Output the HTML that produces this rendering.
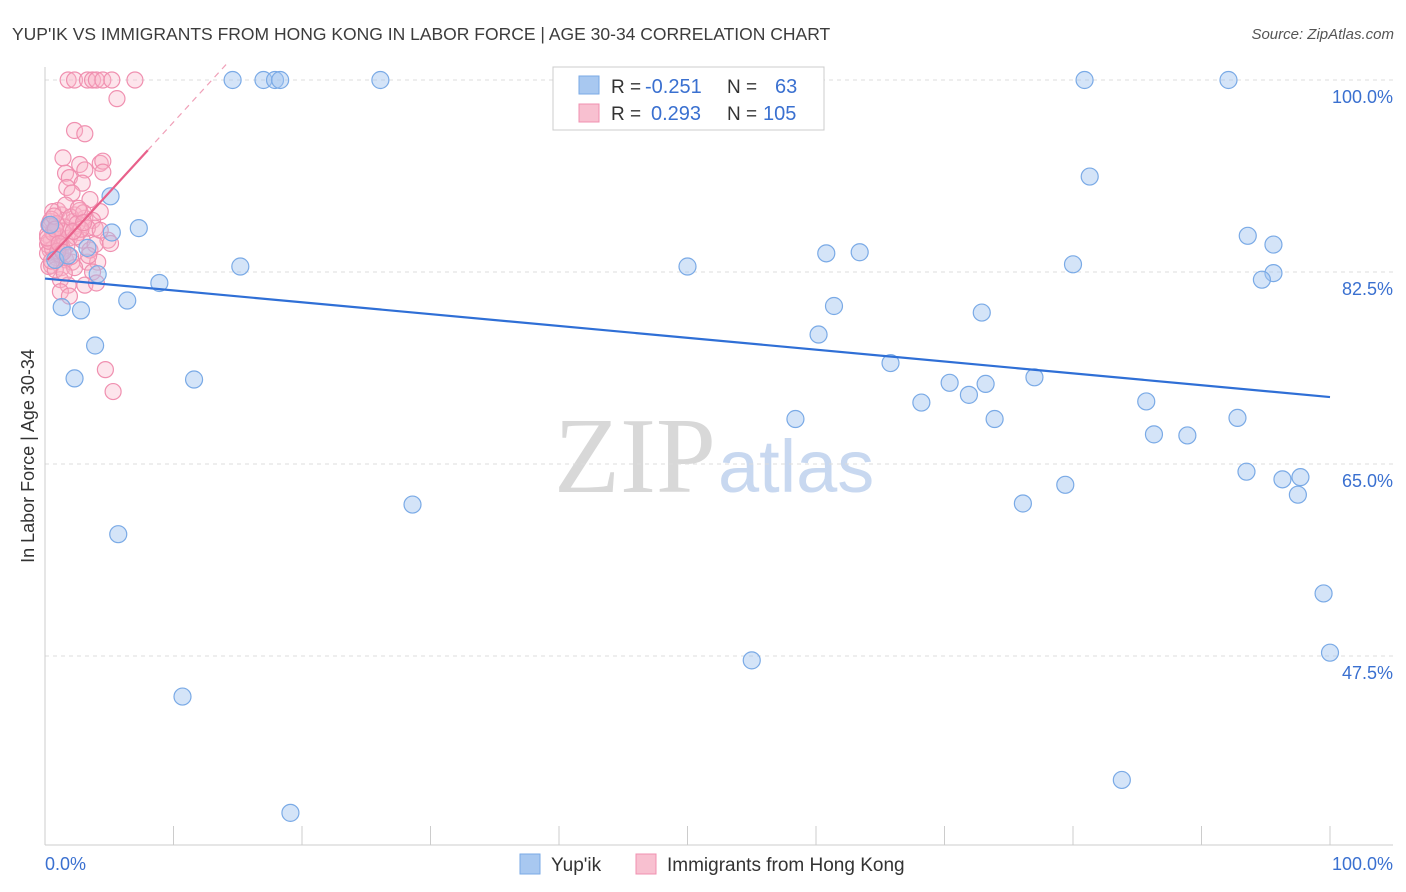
<!DOCTYPE html>
<html><head><meta charset="utf-8"><style>
body{margin:0;background:#fff;font-family:"Liberation Sans",sans-serif}
svg{display:block}
</style></head><body>
<svg width="1406" height="892" id="c">
<text x="12" y="40" font-size="17.5" fill="#3c3c3c">YUP'IK VS IMMIGRANTS FROM HONG KONG IN LABOR FORCE | AGE 30-34 CORRELATION CHART</text>
<text x="1394" y="39" font-size="15" fill="#555" text-anchor="end" font-style="italic">Source: ZipAtlas.com</text>
<text x="716" y="492" font-size="108" fill="#d8d8d8" text-anchor="end" font-family="Liberation Serif,serif">ZIP</text>
<text x="718" y="492" font-size="74" fill="#c8d8f0">atlas</text>
<g id="grid"></g>
<line x1="45" y1="67" x2="45" y2="845" stroke="#ccc"/>
<line x1="45" y1="845" x2="1393" y2="845" stroke="#ccc"/>
<text x="34" y="456" font-size="18" fill="#333" text-anchor="middle" transform="rotate(-90 34 456)">In Labor Force | Age 30-34</text>
<g id="marks"></g>
<g>
<rect x="553" y="67" width="271" height="63" fill="#fff" stroke="#ccc"/>
<rect x="579" y="76" width="20" height="18" fill="#a8c8f0" stroke="#7aaae6"/>
<rect x="579" y="104" width="20" height="18" fill="#f8c0d0" stroke="#f090b0"/>
<text x="611" y="93" font-size="19" fill="#333">R =</text>
<text x="645" y="93" font-size="20" fill="#3a70d0">-0.251</text>
<text x="727" y="93" font-size="19" fill="#333">N =</text>
<text x="775" y="93" font-size="20" fill="#3a70d0">63</text>
<text x="611" y="120" font-size="19" fill="#333">R =</text>
<text x="651" y="120" font-size="20" fill="#3a70d0">0.293</text>
<text x="727" y="120" font-size="19" fill="#333">N =</text>
<text x="763" y="120" font-size="20" fill="#3a70d0">105</text>
</g>
<g>
<rect x="520" y="854" width="20" height="20" fill="#a8c8f0" stroke="#7aaae6"/>
<text x="551" y="871" font-size="19" fill="#333">Yup'ik</text>
<rect x="636" y="854" width="20" height="20" fill="#f8c0d0" stroke="#f090b0"/>
<text x="667" y="871" font-size="19" fill="#333">Immigrants from Hong Kong</text>
</g>
<text x="45" y="870" font-size="18" fill="#3a70d0">0.0%</text>
<text x="1393" y="870" font-size="18" fill="#3a70d0" text-anchor="end">100.0%</text>
</svg>
<script>
const yTicks=[100,82.5,65,47.5];
const yTickLabels=["100.0%","82.5%","65.0%","47.5%"];
const blueX=[14.6,17.0,17.9,18.3,26.1,41.5,59.9,80.9,92.1,5.1,7.3,5.2,3.3,4.1,15.2,8.9,6.4,1.3,2.8,3.9,2.3,11.6,5.7,10.7,19.1,28.6,50.0,60.8,63.4,61.4,60.2,65.8,68.2,70.4,71.9,73.2,73.9,72.9,58.4,80.0,81.3,77.0,76.1,79.4,85.7,86.3,88.9,92.8,93.5,93.6,95.6,95.6,94.7,96.3,97.7,97.5,99.5,100,55.0,83.8,0.8,0.4,1.8];
const blueY=[100,100,100,100,100,100,100,100,100,89.4,86.5,86.1,84.7,82.3,83.0,81.5,79.9,79.3,79.0,75.8,72.8,72.7,58.6,43.8,33.2,61.3,83.0,84.2,84.3,79.4,76.8,74.2,70.6,72.4,71.3,72.3,69.1,78.8,69.1,83.2,91.2,72.9,61.4,63.1,70.7,67.7,67.6,69.2,64.3,85.8,85.0,82.4,81.8,63.6,63.8,62.2,53.2,47.8,47.1,36.2,83.6,86.8,84.0];
const pinkX=[1.8,2.3,3.3,3.7,4.0,4.5,5.2,7.0,5.6,2.3,3.1,1.4,4.3,4.5,2.7,3.1,1.6,1.9,4.5,2.9,1.7,2.1,3.5,4.3,1.0,1.3,2.3,3.1,3.7,0.4,0.8,1.6,2.6,3.9,0.2,0.5,1.2,1.9,2.9,4.9,0.4,1.0,1.6,2.1,3.3,4.1,0.5,1.3,2.3,3.7,1.2,1.8,3.1,4.0,1.2,1.9,4.7,5.3,0.2,0.6,1.6,2.7,3.5,3.9,5.1,0.9,1.3,2.2,3.3,4.3,0.3,0.7,1.1,1.5,2.0,2.5,3.0,0.2,0.6,1.0,1.4,0.3,0.8,1.2,2.4,2.8,0.5,0.9,1.7,2.0,0.3,0.6,1.0,1.5,0.4,0.7,2.6,3.4,0.2,0.5,0.8,1.1,1.4,2.2,3.0];
const pinkY=[100,100,100,100,100,100,100,100,98.3,95.4,95.1,92.9,92.4,92.6,92.3,91.8,91.5,91.1,91.6,90.6,90.2,89.7,89.1,88.0,88.1,87.7,87.7,87.4,87.2,87.1,86.5,86.3,86.1,86.5,85.9,85.4,85.2,85.6,85.4,85.4,84.5,84.0,83.6,83.4,83.4,83.4,83.1,82.9,82.9,82.5,81.8,81.3,81.3,81.5,80.7,80.3,73.6,71.6,85.0,88.0,88.6,88.1,84.5,85.0,85.1,83.8,84.8,87.1,86.5,86.3,86.8,86.0,85.5,86.6,87.5,86.9,87.9,84.2,84.6,85.8,86.2,83.0,82.7,84.1,85.7,86.4,87.3,86.9,84.9,83.9,85.3,86.1,84.4,82.4,86.7,87.6,88.3,84.0,85.6,83.5,86.4,85.1,84.3,86.2,87.0];
const blueTrend=[81.9,71.1];
const pinkTrend=[83.6,93.6];
const pinkTrendX=[0.2,8.0,14.3];
const NS='http://www.w3.org/2000/svg';
const sx=v=>45+v*12.85, sy=v=>80+(100-v)*10.971;
function mk(t,a,p){const e=document.createElementNS(NS,t);for(const k in a)e.setAttribute(k,a[k]);(p||document.getElementById('marks')).appendChild(e);return e;}
const grid=document.getElementById('grid');
yTicks.forEach((t,i)=>{
 const l=mk('line',{x1:45,x2:1393,y1:sy(t),y2:sy(t),stroke:'#ddd','stroke-dasharray':'4,4'},grid);
 
 
 const tx=mk('text',{x:1393,y:sy(t)+23,'font-size':18,fill:'#3a70d0','text-anchor':'end'},grid);
 tx.textContent=yTickLabels[i];
 
 
});
for(let i=0;i<=10;i++){const l=mk('line',{x1:sx(i*10),x2:sx(i*10),y1:826,y2:845,stroke:'#ccc'},grid);
 
 }
pinkX.forEach((x,i)=>{const c=mk('circle',{cx:sx(x),cy:sy(pinkY[i]),r:8,fill:'rgba(248,180,200,0.35)',stroke:'#f090b0','stroke-width':1.2});
 
 });
blueX.forEach((x,i)=>{const c=mk('circle',{cx:sx(x),cy:sy(blueY[i]),r:8.5,fill:'rgba(160,196,240,0.45)',stroke:'#7aaae6','stroke-width':1.2});
 
 });
const bl=mk('line',{x1:sx(0),y1:sy(blueTrend[0]),x2:sx(100),y2:sy(blueTrend[1]),stroke:'#2f6fd6','stroke-width':2.2});


const slope=(pinkTrend[1]-pinkTrend[0])/(pinkTrendX[1]-pinkTrendX[0]);
const pl=mk('line',{x1:sx(pinkTrendX[0]),y1:sy(pinkTrend[0]),x2:sx(pinkTrendX[1]),y2:sy(pinkTrend[1]),stroke:'#e8608a','stroke-width':2.2});


const pd=mk('line',{x1:sx(pinkTrendX[1]),y1:sy(pinkTrend[1]),x2:sx(pinkTrendX[2]),y2:sy(pinkTrend[1]+slope*(pinkTrendX[2]-pinkTrendX[1])),stroke:'#f0a0b8','stroke-width':1.2,'stroke-dasharray':'6,5'});


</script>
</body></html>
